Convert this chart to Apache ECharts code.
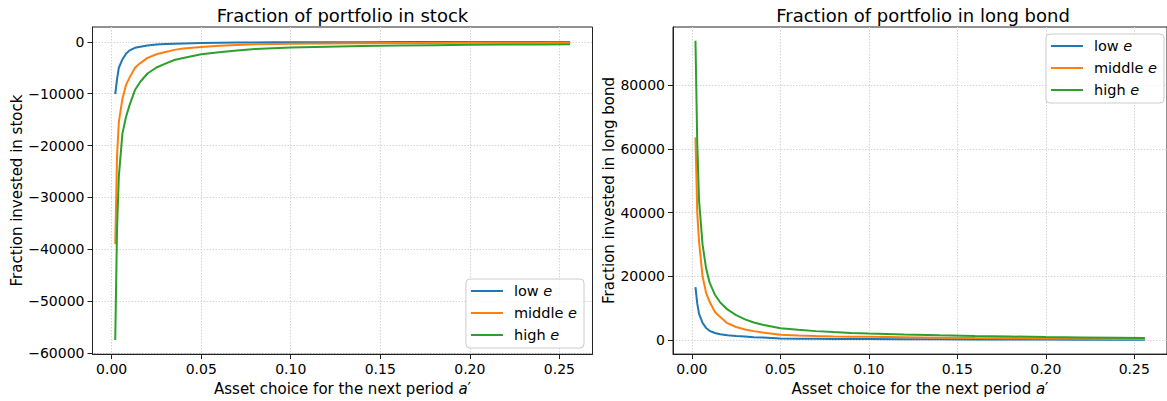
<!DOCTYPE html>
<html>
<head>
<meta charset="utf-8">
<script src="https://cdn.jsdelivr.net/npm/echarts@6/dist/echarts.min.js"></script>
<style>
html,body{margin:0;padding:0;background:#fff;}
#chart{width:1167px;height:401px;}
</style>
</head>
<body>
<div id="chart"></div>
<script>
// Asset grid (next-period asset choice a')
const aGrid = [0.002, 0.003, 0.004, 0.006, 0.008, 0.010, 0.013, 0.016, 0.020, 0.025, 0.030, 0.035, 0.040, 0.050, 0.060, 0.070, 0.080, 0.090, 0.100, 0.120, 0.140, 0.160, 0.180, 0.200, 0.220, 0.240, 0.256];

// Fraction invested in stock
const stockLow  = [-10100, -7200, -5000, -3400, -2300, -1650, -1150, -930, -700, -500, -420, -350, -300, -230, -180, -140, -115, -100, -90, -75, -65, -55, -50, -45, -40, -35, -30];
const stockMid  = [-39000, -22000, -15500, -11000, -8300, -6900, -5000, -4100, -3100, -2400, -1950, -1550, -1300, -1000, -750, -600, -480, -400, -360, -310, -270, -235, -210, -190, -170, -155, -145];
const stockHigh = [-57500, -36000, -26000, -17700, -14500, -12200, -9300, -7700, -6100, -4950, -4200, -3500, -3100, -2400, -2000, -1650, -1400, -1220, -1100, -930, -800, -710, -640, -580, -530, -490, -460];

// Fraction invested in long bond
const bondLow  = [16600, 11500, 8300, 5400, 3800, 2900, 2200, 1800, 1500, 1250, 1080, 900, 780, 520, 430, 380, 340, 310, 290, 250, 220, 190, 170, 150, 130, 115, 100];
const bondMid  = [63600, 40000, 31000, 20000, 14800, 12000, 8800, 7200, 5300, 4100, 3300, 2800, 2400, 1650, 1400, 1250, 1150, 1070, 1000, 870, 760, 660, 570, 490, 420, 350, 310];
const bondHigh = [93900, 62000, 44000, 30000, 22500, 18000, 14200, 11800, 9600, 7800, 6500, 5500, 4800, 3700, 3200, 2800, 2500, 2250, 2050, 1750, 1480, 1280, 1100, 950, 820, 700, 620];

const seriesNames = ['low e', 'middle e', 'high e'];
const colors = ['#1f77b4', '#ff7f0e', '#2ca02c'];
const titles = ['Fraction of portfolio in stock', 'Fraction of portfolio in long bond'];
const yNames = ['Fraction invested in stock', 'Fraction invested in long bond'];
const xName = 'Asset choice for the next period {i|a}′';

const FONT = 'DejaVu Sans';
const chart = echarts.init(document.getElementById('chart'), null, {renderer: 'svg'});

function pairs(ys) { return aGrid.map((a, i) => [a, ys[i]]); }

const gridCommon = {top: 27, height: 330.5, width: 500, show: true, borderColor: '#222', borderWidth: 1, containLabel: false};
const splitLine = {show: true, showMinLine: false, showMaxLine: false, lineStyle: {color: '#d4d4d4', type: [1.5, 1.5], width: 1}};

function xAxis(idx) {
  return {
    type: 'value', gridIndex: idx, min: -0.0107, max: 0.2685, splitNumber: 5,
    axisLine: {show: true, onZero: false, lineStyle: {color: '#222'}},
    axisTick: {show: true, length: 5, lineStyle: {color: '#222'}},
    axisLabel: {show: true, margin: 8, fontFamily: FONT, fontSize: 14, color: '#000',
      showMinLabel: false, showMaxLabel: false,
      formatter: v => { const r = Math.round(v / 0.05); return Math.abs(v - r * 0.05) < 1e-6 ? v.toFixed(2) : ''; }},
    splitLine: splitLine,
    name: xName, nameLocation: 'middle', nameGap: 12,
    nameTextStyle: {fontFamily: FONT, fontSize: 15, color: '#000',
      rich: {i: {fontFamily: FONT, fontSize: 15, fontStyle: 'italic', color: '#000'}}}
  };
}
function yAxis(idx, min, max, gap) {
  return {
    type: 'value', gridIndex: idx, min: min, max: max, splitNumber: 5,
    axisLine: {show: true, onZero: false, lineStyle: {color: '#222'}},
    axisTick: {show: true, length: 5, lineStyle: {color: '#222'}},
    axisLabel: {show: true, margin: 8, fontFamily: FONT, fontSize: 14, color: '#000',
      showMinLabel: false, showMaxLabel: false,
      formatter: v => (Math.abs(v % 10000) < 1e-6 ? String(Math.round(v)).replace('-', '\u2212') : '')},
    splitLine: splitLine,
    name: yNames[idx], nameLocation: 'middle', nameGap: gap,
    nameTextStyle: {fontFamily: FONT, fontSize: 15, color: '#000'}
  };
}

function legend(idx, pos) {
  return Object.assign({
    data: seriesNames.map((n, k) => ({name: n, itemStyle: {color: colors[k]}})),
    orient: 'vertical', selectedMode: false,
    icon: 'rect', itemWidth: 32, itemHeight: 2.2, itemGap: 6,
    backgroundColor: 'rgba(255,255,255,0.8)', borderColor: '#cccccc', borderWidth: 1, borderRadius: 4,
    padding: [4, 7, 5, 5],
    formatter: n => n.slice(0, -1) + '{i|e}',
    textStyle: {fontFamily: FONT, fontSize: 14.5, color: '#000', lineHeight: 16, padding: [0, 0, 0, 6],
      rich: {i: {fontFamily: FONT, fontSize: 14.5, fontStyle: 'italic', color: '#000', lineHeight: 16}}}
  }, pos);
}

const stockSets = [stockLow, stockMid, stockHigh];
const bondSets = [bondLow, bondMid, bondHigh];
const series = [];
[stockSets, bondSets].forEach((sets, g) => {
  sets.forEach((ys, k) => {
    series.push({
      type: 'line', name: seriesNames[k], xAxisIndex: g, yAxisIndex: g,
      data: pairs(ys), showSymbol: false, symbol: 'none', animation: false,
      lineStyle: {color: colors[k], width: 2}, itemStyle: {color: colors[k]}
    });
  });
});

chart.setOption({
  animation: false,
  backgroundColor: '#fff',
  grid: [Object.assign({left: 92.5}, gridCommon), Object.assign({left: 673}, gridCommon)],
  xAxis: [xAxis(0), xAxis(1)],
  yAxis: [yAxis(0, -60200, 2860, 67), yAxis(1, -4410, 98240, 54)],
  legend: [legend(0, {right: 583, top: 279}), legend(1, {right: 3, top: 34})],
  graphic: [
    {type: 'text', x: 342.5, y: 15, style: {text: titles[0], font: '18px "DejaVu Sans"', fill: '#000', align: 'center', verticalAlign: 'middle', textAlign: 'center', textVerticalAlign: 'middle'}},
    {type: 'text', x: 923, y: 15, style: {text: titles[1], font: '18px "DejaVu Sans"', fill: '#000', align: 'center', verticalAlign: 'middle', textAlign: 'center', textVerticalAlign: 'middle'}}
  ],
  series: series
});
</script>
</body>
</html>
